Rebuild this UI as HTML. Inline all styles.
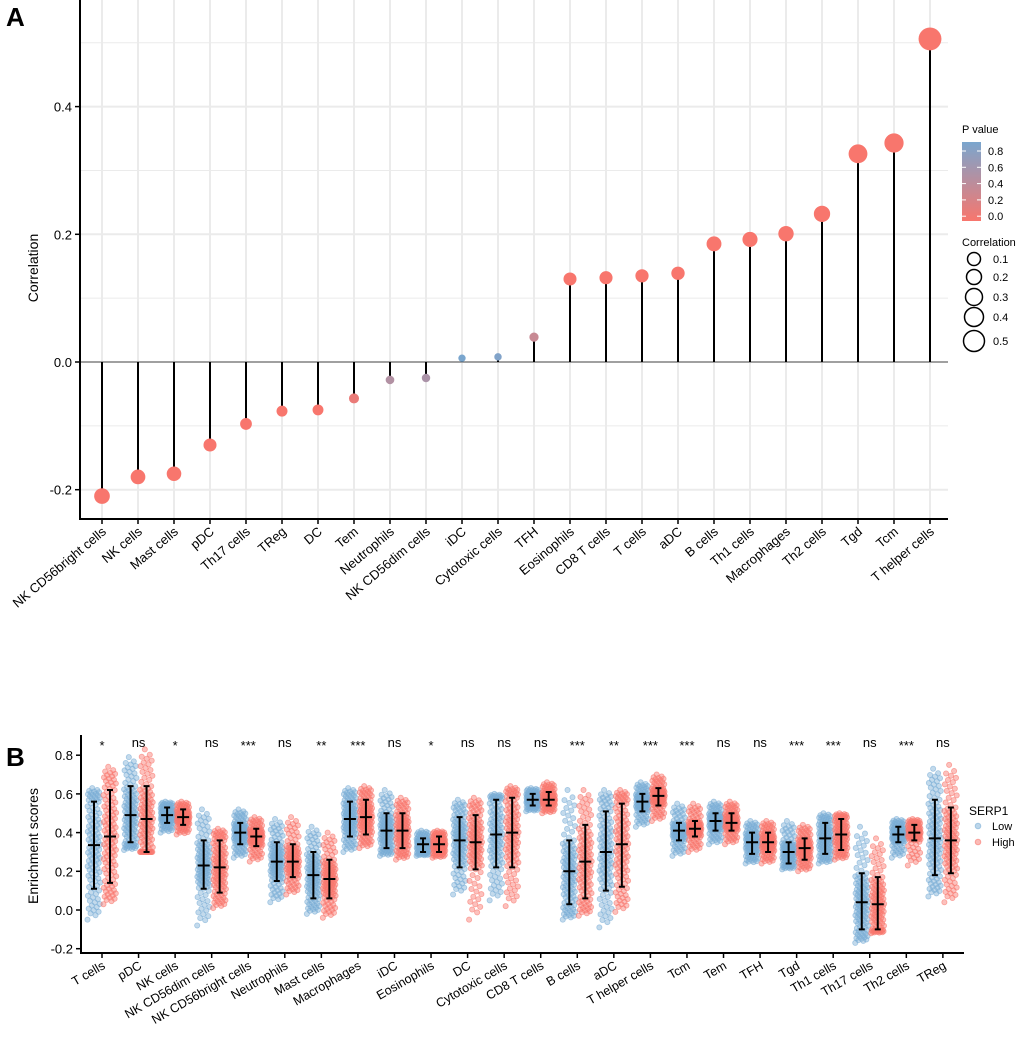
<!DOCTYPE html>
<html><head><meta charset="utf-8"><style>
body{margin:0;background:#fff;font-family:"Liberation Sans",Arial,sans-serif;}
svg text{font-family:"Liberation Sans",Arial,sans-serif;}
</style></head><body>
<svg id="fig" width="1020" height="1037" xmlns="http://www.w3.org/2000/svg">
<text x="6" y="26" font-size="26" font-weight="bold">A</text>
<text x="6" y="766" font-size="26" font-weight="bold">B</text>
<g id="pa"></g>
<g id="pb"></g>
</svg>
<script>
const NS="http://www.w3.org/2000/svg";
function mk(p,t,a){const e=document.createElementNS(NS,t);for(const k in a)e.setAttribute(k,a[k]);p.appendChild(e);return e;}
// ---------- Panel A data ----------
const aCats=["NK CD56bright cells","NK cells","Mast cells","pDC","Th17 cells","TReg","DC","Tem","Neutrophils","NK CD56dim cells","iDC","Cytotoxic cells","TFH","Eosinophils","CD8 T cells","T cells","aDC","B cells","Th1 cells","Macrophages","Th2 cells","Tgd","Tcm","T helper cells"];
const aCorr=[-0.21,-0.18,-0.175,-0.13,-0.097,-0.077,-0.075,-0.057,-0.028,-0.025,0.006,0.008,0.039,0.13,0.132,0.135,0.139,0.185,0.192,0.201,0.232,0.326,0.343,0.506];
const aP=[0,0,0,0,0,0,0,0.1,0.5,0.55,0.9,0.85,0.35,0,0,0,0,0,0,0,0,0,0,0];
const aTicks=[-0.2,0.0,0.2,0.4];
const aTickLabels=["-0.2","0.0","0.2","0.4"];
const legP=["0.8","0.6","0.4","0.2","0.0"];
const legC=[0.1,0.2,0.3,0.4,0.5];
// ---------- Panel B data ----------
const bCats=["T cells","pDC","NK cells","NK CD56dim cells","NK CD56bright cells","Neutrophils","Mast cells","Macrophages","iDC","Eosinophils","DC","Cytotoxic cells","CD8 T cells","B cells","aDC","T helper cells","Tcm","Tem","TFH","Tgd","Th1 cells","Th17 cells","Th2 cells","TReg"];
const bSig=["*","ns","*","ns","***","ns","**","***","ns","*","ns","ns","ns","***","**","***","***","ns","ns","***","***","ns","***","ns"];
const lowMid=[0.335,0.49,0.49,0.23,0.40,0.25,0.18,0.47,0.41,0.34,0.36,0.39,0.57,0.20,0.30,0.56,0.41,0.46,0.35,0.30,0.37,0.04,0.39,0.37];
const lowLo=[0.11,0.35,0.45,0.11,0.34,0.15,0.06,0.38,0.32,0.30,0.22,0.22,0.54,0.03,0.10,0.51,0.36,0.41,0.29,0.24,0.29,-0.10,0.35,0.18];
const lowHi=[0.56,0.64,0.53,0.36,0.45,0.35,0.30,0.56,0.50,0.37,0.48,0.57,0.60,0.36,0.51,0.60,0.45,0.50,0.40,0.35,0.45,0.19,0.43,0.57];
const lowMin=[-0.05,0.31,0.40,-0.08,0.27,0.04,-0.02,0.30,0.28,0.28,0.08,0.05,0.51,-0.05,-0.09,0.43,0.28,0.34,0.24,0.21,0.24,-0.17,0.27,0.07];
const lowMax=[0.63,0.79,0.56,0.52,0.52,0.47,0.43,0.63,0.62,0.41,0.57,0.60,0.63,0.62,0.62,0.66,0.55,0.56,0.46,0.46,0.50,0.43,0.47,0.73];
const highMid=[0.38,0.47,0.48,0.22,0.38,0.25,0.16,0.48,0.41,0.34,0.35,0.40,0.57,0.25,0.34,0.59,0.42,0.45,0.35,0.32,0.39,0.03,0.40,0.36];
const highLo=[0.14,0.30,0.44,0.09,0.33,0.17,0.06,0.39,0.32,0.30,0.21,0.22,0.54,0.06,0.12,0.54,0.38,0.41,0.30,0.26,0.31,-0.10,0.36,0.19];
const highHi=[0.62,0.64,0.52,0.36,0.42,0.34,0.26,0.57,0.50,0.38,0.49,0.58,0.61,0.44,0.55,0.63,0.46,0.50,0.40,0.37,0.47,0.17,0.44,0.53];
const highMin=[0.03,0.30,0.39,0.01,0.25,0.08,-0.04,0.32,0.26,0.27,-0.05,0.02,0.50,-0.03,-0.01,0.46,0.30,0.34,0.24,0.20,0.26,-0.12,0.23,0.04];
const highMax=[0.74,0.83,0.56,0.42,0.48,0.48,0.40,0.64,0.58,0.41,0.58,0.64,0.66,0.62,0.62,0.70,0.55,0.56,0.46,0.44,0.50,0.37,0.47,0.75];
const bTicks=[-0.2,0,0.2,0.4,0.6,0.8];
const bTickLabels=["-0.2","0.0","0.2","0.4","0.6","0.8"];

// ---------- Panel A ----------
(function(){
const g=document.getElementById('pa');
const L=80,R=948,T=0,B=519;
const x0=102,dx=36.0;
const X=i=>x0+i*dx;
const Y=v=>362-v*638.5;
for(let v=-0.3;v<=0.55;v+=0.1){const y=Y(v);if(y<T||y>B)continue;
 const major=aTicks.some(t=>Math.abs(t-v)<1e-6);
 const l=mk(g,'line',{x1:L,x2:R,y1:y,y2:y,stroke:'#ebebeb','stroke-width':major?2:1});
 }
aCats.forEach((c,i)=>{const l=mk(g,'line',{x1:X(i),x2:X(i),y1:T,y2:B,stroke:'#ebebeb','stroke-width':2});
 });
const z=mk(g,'line',{x1:L,x2:R,y1:Y(0),y2:Y(0),stroke:'#555','stroke-width':1});

function pcol(p){const a=[248,118,109],b=[122,166,206];return `rgb(${a.map((v,k)=>Math.round(v+(b[k]-v)*p/0.9)).join(',')})`;}
const rad=c=>Math.sqrt(12+235*Math.abs(c));
aCats.forEach((c,i)=>{
 const s=mk(g,'line',{x1:X(i),x2:X(i),y1:Y(0),y2:Y(aCorr[i]),stroke:'#000','stroke-width':2});
 
 const d=mk(g,'circle',{cx:X(i),cy:Y(aCorr[i]),r:rad(aCorr[i]),fill:pcol(aP[i])});
 
 const t=mk(g,'line',{x1:X(i),x2:X(i),y1:B,y2:B+5,stroke:'#000','stroke-width':1.5});
 
 const tx=mk(g,'text',{x:X(i)+5,y:B+14,'font-size':13,'text-anchor':'end',transform:`rotate(-40 ${X(i)+5} ${B+14})`});
 tx.textContent=c;
});
const ax=mk(g,'path',{d:`M${L} ${T} V${B} H${R}`,fill:'none',stroke:'#000','stroke-width':2});

aTicks.forEach((v,k)=>{const t=mk(g,'line',{x1:L-5,x2:L,y1:Y(v),y2:Y(v),stroke:'#000','stroke-width':1.5});
 
 const tx=mk(g,'text',{x:L-8,y:Y(v)+5,'font-size':13,'text-anchor':'end'});tx.textContent=aTickLabels[k];
 });
const yt=mk(g,'text',{x:38,y:268,'font-size':14,'text-anchor':'middle',transform:'rotate(-90 38 268)'});
yt.textContent='Correlation';
// legend
const lt=mk(g,'text',{x:962,y:133,'font-size':11});lt.textContent='P value';

const defs=mk(g,'defs',{});const lg=mk(defs,'linearGradient',{id:'pg',x1:0,y1:0,x2:0,y2:1});
mk(lg,'stop',{offset:'0','stop-color':'rgb(122,166,206)'});mk(lg,'stop',{offset:'1','stop-color':'rgb(248,118,109)'});
const cb=mk(g,'rect',{x:962,y:142,width:19,height:79,fill:'url(#pg)'});

legP.forEach((s,k)=>{const y=151+k*16.3;const t=mk(g,'text',{x:988,y:y+4,'font-size':11});t.textContent=s;
 
 mk(g,'line',{x1:962,x2:966,y1:y,y2:y,stroke:'#fff'});mk(g,'line',{x1:977,x2:981,y1:y,y2:y,stroke:'#fff'});});
const ct=mk(g,'text',{x:962,y:246,'font-size':11});ct.textContent='Correlation';

legC.forEach((v,k)=>{const y=[259,277,297,317,341][k];
 const c=mk(g,'circle',{cx:974,cy:y,r:5.5+v*10,fill:'none',stroke:'#000','stroke-width':1.5});
 
 const t=mk(g,'text',{x:993,y:y+4,'font-size':11});t.textContent=v.toFixed(1);
 });
})();

// ---------- Panel B ----------
(function(){
const g=document.getElementById('pb');
const L=81,R=964,T=735,B=953;
const x0=102,dx=36.56;
const X=i=>x0+i*dx;
const Y=v=>910-v*193.5;
function invn(p){const a=p<0.5?p:1-p;const t=Math.sqrt(-2*Math.log(a));const z=t-(2.515517+0.802853*t+0.010328*t*t)/(1+1.432788*t+0.189269*t*t+0.001308*t*t*t);return p<0.5?-z:z;}
function group(i,off,mid,lo,hi,mn,mx,col,nm){
 const cx=X(i)+off,n=110;
 for(let k=0;k<n;k++){
  const p=(k+0.5)/n;const zz=invn(p);
  let v;
  if(zz>=1)v=hi+(mx-hi)*(1-Math.exp(-(zz-1)*1.6));
  else if(zz<=-1)v=lo-(lo-mn)*(1-Math.exp((zz+1)*1.6));
  else v=zz>0?mid+zz*(hi-mid):mid+zz*(mid-lo);
  if(k===0)v=mn;if(k===n-1)v=mx;
  const j=((k*0.61803)%1-0.5)*13;
  const c=mk(g,'circle',{cx:cx+j,cy:Y(v),r:2.6,fill:col,'fill-opacity':0.45,stroke:col,'stroke-opacity':0.6,'stroke-width':0.8});
  
 }
 const e=mk(g,'path',{d:`M${cx} ${Y(hi)} V${Y(lo)} M${cx-3} ${Y(hi)} H${cx+3} M${cx-3} ${Y(lo)} H${cx+3} M${cx-6} ${Y(mid)} H${cx+6}`,stroke:'#000','stroke-width':2,fill:'none'});
 
}
bCats.forEach((c,i)=>{
 group(i,-8,lowMid[i],lowLo[i],lowHi[i],lowMin[i],lowMax[i],'#7aaed5','low');
 group(i,8,highMid[i],highLo[i],highHi[i],highMin[i],highMax[i],'#f8766d','high');
 const s=mk(g,'text',{x:X(i),y:bSig[i]==='ns'?747:750,'font-size':13,'text-anchor':'middle'});s.textContent=bSig[i];
 
 const t=mk(g,'line',{x1:X(i),x2:X(i),y1:B,y2:B+5,stroke:'#000','stroke-width':1.5});
 
 const tx=mk(g,'text',{x:X(i)+4,y:B+15,'font-size':12.5,'text-anchor':'end',transform:`rotate(-30 ${X(i)+4} ${B+15})`});
 tx.textContent=c;
});
const ax=mk(g,'path',{d:`M${L} ${T} V${B} H${R}`,fill:'none',stroke:'#000','stroke-width':2});

bTicks.forEach((v,k)=>{const t=mk(g,'line',{x1:L-5,x2:L,y1:Y(v),y2:Y(v),stroke:'#000','stroke-width':1.5});
 
 const tx=mk(g,'text',{x:L-8,y:Y(v)+5,'font-size':13,'text-anchor':'end'});tx.textContent=bTickLabels[k];
 });
const yt=mk(g,'text',{x:38,y:846,'font-size':14,'text-anchor':'middle',transform:'rotate(-90 38 846)'});
yt.textContent='Enrichment scores';
const lt=mk(g,'text',{x:969,y:815,'font-size':12});lt.textContent='SERP1';

[['Low','#7aaed5',826],['High','#f8766d',842]].forEach(([s,c,y])=>{
 const d=mk(g,'circle',{cx:978,cy:y,r:2.8,fill:c,'fill-opacity':0.5,stroke:c,'stroke-opacity':0.6});
 
 const t=mk(g,'text',{x:992,y:y+4,'font-size':11});t.textContent=s;
 });
})();
</script>
</body></html>
